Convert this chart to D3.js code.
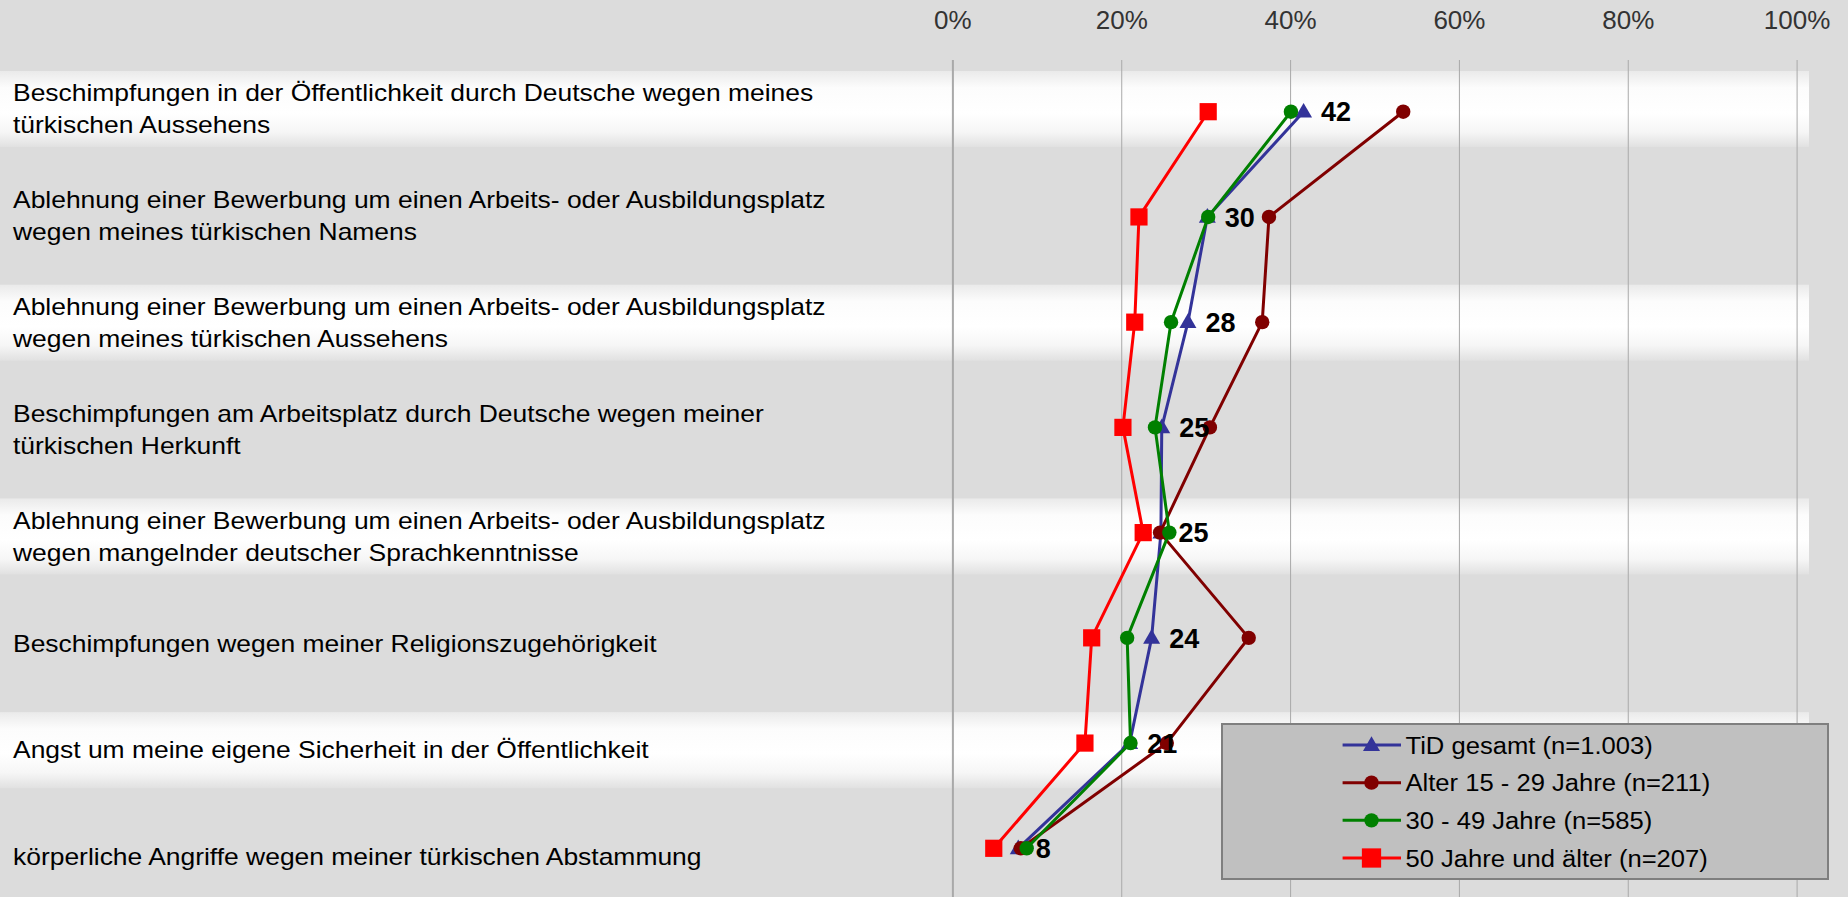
<!DOCTYPE html>
<html>
<head>
<meta charset="utf-8">
<script src="https://cdn.jsdelivr.net/npm/d3@7"></script>
<style>
  html, body { margin: 0; padding: 0; background: #dcdcdc; overflow: hidden; }
  svg { display: block; }
  text { font-family: "Liberation Sans", Arial, Helvetica, sans-serif; }
</style>
</head>
<body>
<svg id="chart" width="1848" height="897"></svg>
<script>
// ---------- DATA ----------
const categories = [
  ["Beschimpfungen in der Öffentlichkeit durch Deutsche wegen meines", "türkischen Aussehens"],
  ["Ablehnung einer Bewerbung um einen Arbeits- oder Ausbildungsplatz", "wegen meines türkischen Namens"],
  ["Ablehnung einer Bewerbung um einen Arbeits- oder Ausbildungsplatz", "wegen meines türkischen Aussehens"],
  ["Beschimpfungen am Arbeitsplatz durch Deutsche wegen meiner", "türkischen Herkunft"],
  ["Ablehnung einer Bewerbung um einen Arbeits- oder Ausbildungsplatz", "wegen mangelnder deutscher Sprachkenntnisse"],
  ["Beschimpfungen wegen meiner Religionszugehörigkeit"],
  ["Angst um meine eigene Sicherheit in der Öffentlichkeit"],
  ["körperliche Angriffe wegen meiner türkischen Abstammung"]
];
const seriesNames = [
  "TiD gesamt (n=1.003)",
  "Alter 15 - 29 Jahre (n=211)",
  "30 - 49 Jahre (n=585)",
  "50 Jahre und älter (n=207)"
];
const tidGesamt   = [41.6, 30.2, 27.9, 24.8, 24.7, 23.6, 21.0, 7.8];
const alter15_29  = [53.4, 37.5, 36.7, 30.5, 24.6, 35.1, 25.4, 8.1];
const alter30_49  = [40.1, 30.3, 25.9, 24.0, 25.7, 20.7, 21.1, 8.8];
const alter50plus = [30.3, 22.1, 21.6, 20.2, 22.6, 16.5, 15.7, 4.9];
const xTicks = [0, 20, 40, 60, 80, 100];
const xTickLabels = ["0%", "20%", "40%", "60%", "80%", "100%"];

// ---------- STYLES ----------
const seriesDefs = [
  { name: seriesNames[0], values: tidGesamt,   color: "#333399", marker: "triangle" },
  { name: seriesNames[1], values: alter15_29,  color: "#800000", marker: "circle" },
  { name: seriesNames[2], values: alter30_49,  color: "#008000", marker: "circle" },
  { name: seriesNames[3], values: alter50plus, color: "#ff0000", marker: "square" }
];

const svg = d3.select("#chart");
const W = 1848, H = 897;
const idx = d3.range(categories.length);

const x = d3.scaleLinear().domain([0, 100]).range([952.4, 1796.6]);
const yBand = d3.scalePoint().domain(idx).range([109, 857]);     // label rows / stripes
const yPt = d3.scalePoint().domain(idx).range([111.7, 848.3]);    // data points

// defs: gradient for white stripes
const defs = svg.append("defs");
const grad = defs.append("linearGradient").attr("id", "stripe").attr("x1", 0).attr("y1", 0).attr("x2", 0).attr("y2", 1);
[["0%", "#eaeaea"], ["22%", "#fcfcfc"], ["55%", "#ffffff"], ["80%", "#f6f6f6"], ["100%", "#e1e1e1"]]
  .forEach(([o, c]) => grad.append("stop").attr("offset", o).attr("stop-color", c));

// background
svg.append("rect").attr("width", W).attr("height", H).attr("fill", "#dcdcdc");

// stripes
svg.append("g").selectAll("rect").data(idx.filter(i => i % 2 === 0)).join("rect")
  .attr("x", 0).attr("width", 1809)
  .attr("y", i => yBand(i) - 38).attr("height", 76)
  .attr("fill", "url(#stripe)");

// gridlines via axis
const gridAxis = d3.axisTop(x).tickValues(xTicks).tickSize(-(H - 60)).tickFormat("");
const gg = svg.append("g").attr("transform", "translate(0,60)").call(gridAxis);
gg.select(".domain").remove();
gg.selectAll(".tick line").attr("stroke", "#a9a9a9").attr("stroke-width", (d) => d === 0 ? 2 : 1);

// tick labels
const labAxis = d3.axisTop(x).tickValues(xTicks).tickSize(0).tickPadding(0)
  .tickFormat((d, i) => xTickLabels[i]);
const lg = svg.append("g").attr("transform", "translate(0,29)").call(labAxis);
lg.select(".domain").remove();
lg.selectAll(".tick text").attr("font-size", 26).attr("fill", "#333333")
  .attr("font-family", "Liberation Sans, Arial, sans-serif").attr("dy", 0);

// category labels (stretched horizontally as in the reference)
const catG = svg.append("g");
idx.forEach(i => {
  const lines = categories[i];
  const n = lines.length;
  lines.forEach((ln, k) => {
    const cy = yBand(i) + (k - (n - 1) / 2) * 32;
    catG.append("g").attr("transform", `translate(13,${cy + 8.3}) scale(1.15,1)`)
      .append("text").attr("font-size", 23).attr("fill", "#000").text(ln);
  });
});

// markers
function drawMarker(g, type, color, cx, cy, s) {
  s = s || 1;
  if (type === "circle") {
    g.append("circle").attr("cx", cx).attr("cy", cy).attr("r", 7.2 * s).attr("fill", color);
  } else if (type === "square") {
    const h = 8.6 * s;
    g.append("rect").attr("x", cx - h).attr("y", cy - h).attr("width", 2 * h).attr("height", 2 * h).attr("fill", color);
  } else {
    g.append("path").attr("transform", `translate(${cx},${cy + 1})`)
      .attr("d", d3.symbol(d3.symbolTriangle, 125 * s * s)()).attr("fill", color);
  }
}

const line = d3.line().x(d => x(d.v)).y(d => yPt(d.i));
seriesDefs.forEach(sd => {
  const pts = sd.values.map((v, i) => ({ v, i }));
  const g = svg.append("g");
  g.append("path").datum(pts).attr("d", line).attr("fill", "none")
    .attr("stroke", sd.color).attr("stroke-width", 3).attr("stroke-linejoin", "round");
  pts.forEach(p => drawMarker(g, sd.marker, sd.color, x(p.v), yPt(p.i)));
});

// data labels for total
svg.append("g").selectAll("text").data(tidGesamt).join("text")
  .attr("x", v => x(v) + 17.5)
  .attr("y", (v, i) => yPt(i) + 9.7)
  .attr("font-size", 27).attr("font-weight", "bold").attr("fill", "#000")
  .text(v => d3.format(".0f")(v));

// legend
const leg = svg.append("g");
leg.append("rect").attr("x", 1222).attr("y", 724).attr("width", 606).attr("height", 155)
  .attr("fill", "#c0c0c0").attr("stroke", "#7f7f7f").attr("stroke-width", 2);
const legY = d3.scalePoint().domain(d3.range(seriesDefs.length)).range([745, 858]);
seriesDefs.forEach((sd, i) => {
  const cy = legY(i);
  leg.append("line").attr("x1", 1342.6).attr("x2", 1401).attr("y1", cy).attr("y2", cy)
    .attr("stroke", sd.color).attr("stroke-width", 3);
  drawMarker(leg, sd.marker, sd.color, 1371.5, cy, sd.marker === "square" ? 1.12 : 1);
  leg.append("g").attr("transform", `translate(1405.5,${cy + 8.7}) scale(1.045,1)`)
    .append("text").attr("font-size", 24.5).attr("fill", "#000").text(sd.name);
});
</script>
</body>
</html>
